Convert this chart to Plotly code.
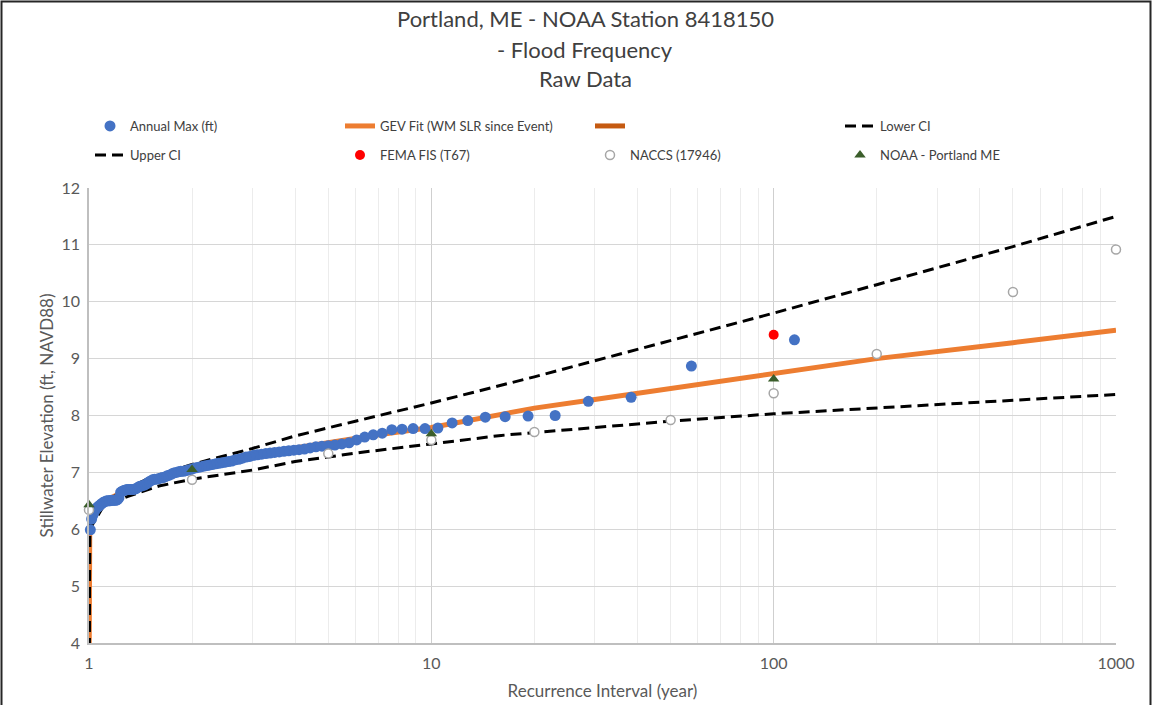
import plotly.graph_objects as go

# ---------------- data ----------------
annual_T = [115, 57.5, 38.33, 28.75, 23.0, 19.17, 16.43, 14.38, 12.78, 11.5,
            10.45, 9.583, 8.846, 8.214, 7.667, 7.188, 6.765, 6.389, 6.053, 5.75,
            5.476, 5.227, 5.0, 4.792, 4.6, 4.423, 4.259, 4.107, 3.966, 3.833,
            3.710, 3.594, 3.485, 3.382, 3.286, 3.194, 3.108, 3.026, 2.949, 2.875,
            2.805, 2.738, 2.674, 2.614, 2.556, 2.5, 2.447, 2.396, 2.347, 2.3,
            2.255, 2.212, 2.170, 2.130, 2.091, 2.054, 2.018, 1.983, 1.949, 1.917,
            1.885, 1.855, 1.825, 1.797, 1.769, 1.742, 1.716, 1.691, 1.667, 1.643,
            1.620, 1.597, 1.575, 1.554, 1.533, 1.513, 1.494, 1.474, 1.456, 1.4375,
            1.420, 1.402, 1.386, 1.369, 1.353, 1.337, 1.322, 1.307, 1.292, 1.278,
            1.264, 1.25, 1.237, 1.223, 1.211, 1.198, 1.186, 1.173, 1.162, 1.15,
            1.139, 1.127, 1.117, 1.106, 1.095, 1.085, 1.075, 1.065, 1.055, 1.045,
            1.036, 1.027, 1.018, 1.009]
annual_max = [9.33, 8.87, 8.32, 8.25, 8.00, 7.99, 7.98, 7.97, 7.91, 7.87,
              7.78, 7.77, 7.77, 7.76, 7.75, 7.69, 7.66, 7.62, 7.57, 7.52,
              7.50, 7.48, 7.47, 7.46, 7.45, 7.43, 7.41, 7.40, 7.39, 7.38,
              7.37, 7.36, 7.35, 7.34, 7.33, 7.32, 7.31, 7.30, 7.28, 7.27,
              7.25, 7.23, 7.22, 7.20, 7.19, 7.18, 7.17, 7.16, 7.15, 7.14,
              7.13, 7.12, 7.11, 7.10, 7.09, 7.08, 7.07, 7.05, 7.04, 7.03,
              7.02, 7.02, 7.01, 7.00, 6.99, 6.97, 6.95, 6.94, 6.92, 6.91,
              6.90, 6.89, 6.88, 6.88, 6.87, 6.85, 6.83, 6.80, 6.78, 6.77,
              6.76, 6.75, 6.73, 6.71, 6.70, 6.70, 6.70, 6.70, 6.70, 6.69,
              6.68, 6.67, 6.65, 6.55, 6.52, 6.51, 6.51, 6.51, 6.51, 6.50,
              6.50, 6.50, 6.49, 6.48, 6.46, 6.44, 6.42, 6.40, 6.38, 6.35,
              6.31, 6.25, 6.18, 5.99]

gev_T = [1.0, 1.005, 1.05, 1.1, 1.2, 1.3, 1.5, 2, 3, 4, 5, 7, 10, 15, 20, 30,
         50, 100, 200, 500, 1000]
gev_fit = [3.0, 6.0, 6.35, 6.48, 6.6, 6.7, 6.86, 7.06, 7.3, 7.43, 7.53, 7.66,
           7.79, 7.99, 8.13, 8.28, 8.47, 8.75, 9.0, 9.28, 9.5]

upper_T = [1.0, 1.005, 1.1, 1.3, 1.5, 2, 3, 4, 6, 10, 20, 50, 100, 200, 500, 1000]
upper_ci = [3.0, 6.05, 6.47, 6.72, 6.9, 7.14, 7.42, 7.64, 7.9, 8.22, 8.68, 9.32,
            9.8, 10.3, 10.97, 11.5]

lower_T = [1.0, 1.005, 1.1, 1.3, 1.6, 2, 3, 4, 5, 6.2, 10, 16, 20, 50, 100,
           200, 500, 1000]
lower_ci = [3.0, 6.0, 6.4, 6.58, 6.76, 6.88, 7.04, 7.19, 7.27, 7.35, 7.5, 7.65,
            7.7, 7.9, 8.03, 8.13, 8.27, 8.37]

fema_T = [100]
fema_val = [9.42]

naccs_T = [1, 2, 5, 10, 20, 50, 100, 200, 500, 1000]
naccs_val = [6.34, 6.87, 7.33, 7.57, 7.71, 7.92, 8.39, 9.08, 10.17, 10.92]

noaa_T = [1, 2, 10, 100]
noaa_val = [6.43, 7.05, 7.68, 8.64]

title_lines = ["Portland, ME - NOAA Station 8418150", "- Flood Frequency", "Raw Data"]
x_ticks = [1, 10, 100, 1000]
x_minor = [2, 3, 4, 5, 6, 7, 8, 9, 20, 30, 40, 50, 60, 70, 80, 90,
           200, 300, 400, 500, 600, 700, 800, 900]

# ---------------- figure ----------------
FONT = "Lato, Carlito, Calibri, sans-serif"
BLUE = "#4472C4"
ORANGE = "#ED7D31"
BROWN = "#C55A11"
GREEN = "#3B5E2B"
W, H = 1153, 705
L, R, T, B = 89, 37, 188, 62
PW, PH = W - L - R, H - T - B

fig = go.Figure()

fig.add_trace(go.Scatter(x=gev_T, y=gev_fit, mode="lines", name="GEV Fit (WM SLR since Event)",
                         line=dict(color=ORANGE, width=5), legend="legend", legendrank=2))
fig.add_trace(go.Scatter(x=[None], y=[None], mode="lines", name=" ",
                         line=dict(color=BROWN, width=5), legend="legend", legendrank=3))
fig.add_trace(go.Scatter(x=lower_T, y=lower_ci, mode="lines", name="Lower CI",
                         line=dict(color="black", width=3, dash="11px,6px"),
                         legend="legend", legendrank=4))
fig.add_trace(go.Scatter(x=upper_T, y=upper_ci, mode="lines", name="Upper CI",
                         line=dict(color="black", width=3, dash="11px,6px"),
                         legend="legend2", legendrank=5))
fig.add_trace(go.Scatter(x=annual_T, y=annual_max, mode="markers", name="Annual Max (ft)",
                         marker=dict(color=BLUE, size=11, line=dict(width=0)),
                         cliponaxis=False, legend="legend", legendrank=1))
fig.add_trace(go.Scatter(x=fema_T, y=fema_val, mode="markers", name="FEMA FIS (T67)",
                         marker=dict(color="#FF0000", size=10, line=dict(width=0)),
                         cliponaxis=False, legend="legend2", legendrank=6))
fig.add_trace(go.Scatter(x=naccs_T, y=naccs_val, mode="markers", name="NACCS (17946)",
                         marker=dict(color="white", size=9, symbol="circle",
                                     line=dict(color="#A6A6A6", width=1.5)),
                         cliponaxis=False, legend="legend2", legendrank=7))
fig.add_trace(go.Scatter(x=noaa_T, y=noaa_val, mode="markers", name="NOAA - Portland ME",
                         marker=dict(color=GREEN, size=10, symbol="triangle-up", line=dict(width=0)),
                         cliponaxis=False, legend="legend2", legendrank=8))

legend_common = dict(orientation="h", xanchor="left", yanchor="top",
                     xref="container", yref="container",
                     entrywidth=205, entrywidthmode="pixels",
                     font=dict(family=FONT, size=13, color="#404040"),
                     bgcolor="rgba(0,0,0,0)", borderwidth=0)

# title lines as centred annotations at the reference's line positions
title_y_px = [18, 49, 79]
annotations = [dict(text=t, xref="paper", yref="paper",
                    x=(585 - L) / PW, y=(PH + T - ypx) / PH,
                    xanchor="center", yanchor="middle", showarrow=False,
                    font=dict(family=FONT, size=22, color="#404040"))
               for t, ypx in zip(title_lines, title_y_px)]

fig.update_layout(
    width=W, height=H,
    margin=dict(l=L, r=R, t=T, b=B, autoexpand=False),
    paper_bgcolor="white", plot_bgcolor="white",
    font=dict(family=FONT, color="#595959"),
    legend=dict(x=90 / W, y=1 - 111 / H, **legend_common),
    legend2=dict(x=90 / W, y=1 - 140 / H, **legend_common),
    showlegend=True,
    annotations=annotations,
    shapes=[dict(type="rect", xref="paper", yref="paper",
                 x0=(1.5 - L) / PW, x1=(1150.5 - L) / PW,
                 y0=-80.0 / PH, y1=(PH + T - 1.5) / PH,
                 line=dict(color="#262626", width=2), fillcolor="rgba(0,0,0,0)",
                 layer="above")],
)

fig.update_xaxes(
    type="log", range=[0, 3],
    tickmode="array", tickvals=x_ticks, ticktext=[str(v) for v in x_ticks],
    showgrid=True, gridcolor="#CFCFCF", gridwidth=1,
    minor=dict(tickmode="array", tickvals=x_minor, showgrid=True,
               gridcolor="#ECECEC", gridwidth=1, ticks=""),
    showline=True, linecolor="#BFBFBF", linewidth=1.5,
    zeroline=False, ticks="",
    tickfont=dict(family=FONT, size=16, color="#595959"),
    ticklabelstandoff=5,
    title=dict(text="Recurrence Interval (year)", standoff=14,
               font=dict(family=FONT, size=17, color="#595959")),
)
fig.update_yaxes(
    range=[4, 12], tickmode="linear", tick0=4, dtick=1,
    showgrid=True, gridcolor="#D6D6D6", gridwidth=1,
    showline=True, linecolor="#BFBFBF", linewidth=1.5,
    zeroline=False, ticks="",
    tickfont=dict(family=FONT, size=16, color="#595959"),
    ticklabelstandoff=4,
    title=dict(text="Stillwater Elevation (ft, NAVD88)", standoff=4,
               font=dict(family=FONT, size=17, color="#595959")),
)

fig.write_html("out.html", config={"displayModeBar": False},
               post_script="document.body.style.margin='0px';")
